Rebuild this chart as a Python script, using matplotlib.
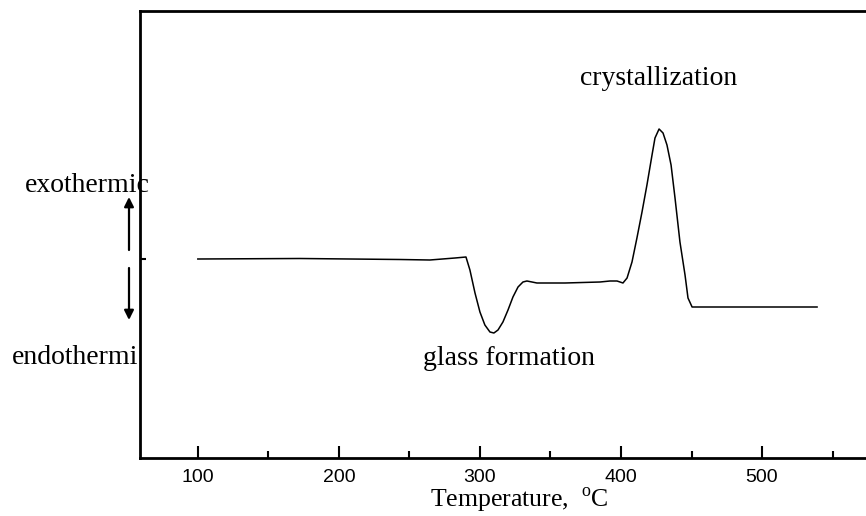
import matplotlib
matplotlib.use("Agg")
import matplotlib.pyplot as plt
from matplotlib.ticker import MultipleLocator

# DTA trace (temperature in deg C, heat-flow signal in arbitrary units)
temperature = [100.0, 172.3, 243.3, 264.5, 282.3, 290.1, 292.9, 296.5, 300.0,
               303.5, 307.1, 309.9, 312.8, 316.3, 319.9, 323.4, 327.0, 330.5,
               333.3, 336.9, 340.4, 344.7, 360.3, 385.1, 392.2, 397.2, 401.4,
               404.3, 407.8, 411.3, 414.9, 418.4, 422.0, 424.1, 427.0, 429.8,
               432.6, 435.5, 438.3, 441.8, 445.4, 447.5, 450.4, 456.0, 539.0]
signal = [0.0, 0.05, -0.05, -0.1, 0.1, 0.2, -1.1, -3.4, -5.3,
          -6.6, -7.3, -7.4, -7.1, -6.3, -5.1, -3.8, -2.8, -2.3,
          -2.2, -2.3, -2.4, -2.4, -2.4, -2.3, -2.2, -2.2, -2.4,
          -1.9, -0.3, 2.1, 4.7, 7.4, 10.4, 12.1, 13.0, 12.6,
          11.4, 9.4, 6.1, 1.7, -1.6, -3.9, -4.8, -4.8, -4.8]

x_major_ticks = [100, 200, 300, 400, 500]
x_label = "Temperature,  $^{\\rm o}$C"
peak_label = "crystallization"
dip_label = "glass formation"
exo_label = "exothermic"
endo_label = "endothermi"

plt.rcParams["mathtext.fontset"] = "custom"
plt.rcParams["mathtext.rm"] = "Liberation Serif"

SERIF = "Liberation Serif"
TEXT_SIZE = 20

W, H = 866, 516
fig = plt.figure(figsize=(W / 100, H / 100), dpi=100)
ax = fig.add_axes([140 / W, 1 - 458 / H, (W - 140) / W, (458 - 11) / H])

ax.plot(temperature, signal, color="black", lw=1.1)

ax.set_xlim(59, 573.7)
ax.set_ylim(-19.9, 24.8)

for side in ("left", "top", "bottom"):
    ax.spines[side].set_linewidth(2.0)
ax.spines["right"].set_visible(False)

ax.set_xticks(x_major_ticks)
ax.xaxis.set_minor_locator(MultipleLocator(50))
ax.tick_params(axis="x", which="major", direction="in", length=9, width=1.5,
               pad=8, labelsize=14)
ax.tick_params(axis="x", which="minor", direction="in", length=5, width=1.5)
for lbl in ax.get_xticklabels():
    lbl.set_family("Liberation Sans")

ax.set_yticks([0])
ax.set_yticklabels([])
ax.tick_params(axis="y", direction="in", length=4, width=1.5)

ax.set_xlabel(x_label, family=SERIF, fontsize=18.5, va="baseline")
ax.xaxis.set_label_coords(0.522, -0.1096)

ax.text(426.6, 17.4, peak_label, family=SERIF, fontsize=TEXT_SIZE,
        ha="center", va="baseline")
ax.text(320.9, -10.6, dip_label, family=SERIF, fontsize=TEXT_SIZE,
        ha="center", va="baseline")

fig.text(25 / W, 1 - 192 / H, exo_label, family=SERIF,
         fontsize=TEXT_SIZE, ha="left", va="baseline")
fig.text(12 / W, 1 - 364 / H, endo_label, family=SERIF,
         fontsize=TEXT_SIZE, ha="left", va="baseline")

arrow_kw = dict(arrowstyle="-|>", color="black", lw=1.6, mutation_scale=14,
                shrinkA=0, shrinkB=0)
fig.add_artist(matplotlib.patches.FancyArrowPatch(
    (129 / W, 1 - 250 / H), (129 / W, 1 - 197 / H),
    transform=fig.transFigure, **arrow_kw))
fig.add_artist(matplotlib.patches.FancyArrowPatch(
    (129 / W, 1 - 268 / H), (129 / W, 1 - 320 / H),
    transform=fig.transFigure, **arrow_kw))

fig.savefig("out.png", dpi=100)
